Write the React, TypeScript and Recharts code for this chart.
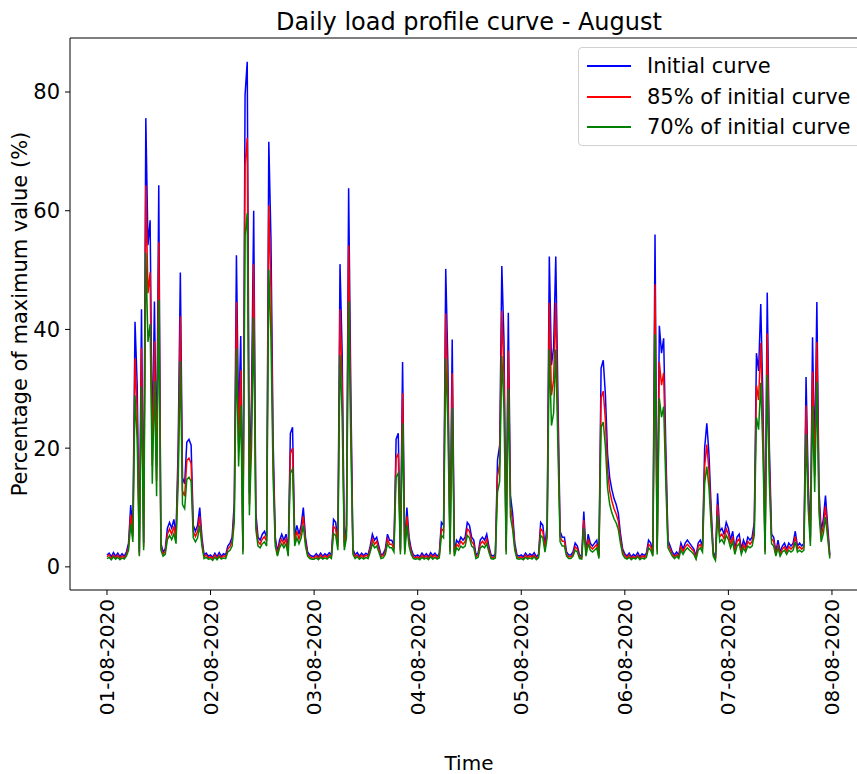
import React from 'react';
import { LineChart, Line, XAxis, YAxis, ReferenceLine } from 'recharts';

// Tick labels for the day boundaries
const dateLabels = ['01-08-2020', '02-08-2020', '03-08-2020', '04-08-2020', '05-08-2020', '06-08-2020', '07-08-2020', '08-08-2020'];
const dayTicks = [0, 1, 2, 3, 4, 5, 6, 7];
const yTicks = [0, 20, 40, 60, 80];
const samplesPerDay = 48; // half-hourly samples

// Initial curve (% of maximum value), one row per day
const initialCurve = [
  2.0, 2.3, 1.7, 2.4, 1.8, 2.3, 1.7, 2.2, 1.8, 2.5, 4.0, 10.4, 6.0, 41.3, 30.6, 2.5, 43.4, 4.0, 75.6, 54.2, 58.4, 20.0, 44.7, 17.0, 64.3, 4.0, 2.5, 3.0, 6.5, 7.5, 6.5, 8.0, 5.5, 20.2, 49.6, 15.0, 14.0, 21.0, 21.5, 20.5, 7.0, 6.0, 7.0, 10.0, 5.0, 2.0, 2.3, 1.8,
  2.0, 1.6, 2.3, 1.7, 2.4, 1.8, 2.2, 2.0, 3.5, 4.0, 5.0, 10.8, 52.5, 24.2, 38.9, 3.0, 79.5, 85.1, 12.4, 29.0, 60.0, 9.0, 5.0, 4.5, 5.5, 6.0, 5.0, 71.6, 55.2, 21.4, 5.0, 2.5, 4.5, 5.5, 4.5, 5.5, 2.5, 22.5, 23.5, 5.0, 7.0, 5.5, 7.0, 10.0, 5.0, 2.5, 2.0, 1.8,
  1.8, 2.2, 1.7, 2.3, 1.8, 2.2, 1.9, 2.4, 2.0, 8.0, 7.5, 4.0, 51.0, 36.0, 4.0, 7.0, 63.8, 30.0, 3.0, 2.0, 2.4, 1.8, 2.3, 1.9, 2.3, 2.0, 3.5, 5.5, 4.5, 5.0, 3.5, 2.0, 2.2, 3.0, 5.5, 4.5, 4.5, 3.5, 21.5, 22.5, 3.0, 34.5, 3.0, 10.0, 5.0, 3.0, 2.0, 1.8,
  2.0, 1.7, 2.3, 1.8, 2.2, 1.7, 2.4, 1.9, 2.3, 1.8, 2.2, 7.5, 7.0, 50.2, 34.0, 3.0, 38.3, 2.5, 4.5, 4.0, 5.0, 4.5, 5.0, 7.5, 7.0, 5.0, 4.5, 2.0, 2.3, 4.5, 5.0, 4.5, 5.5, 3.5, 2.0, 1.8, 2.2, 18.0, 20.5, 50.7, 38.0, 3.0, 42.8, 12.0, 9.0, 4.0, 2.0, 1.8,
  2.0, 1.7, 2.3, 1.8, 2.2, 1.9, 2.4, 1.7, 2.1, 7.5, 7.0, 3.5, 7.0, 52.3, 34.0, 37.0, 52.3, 28.5, 6.0, 5.0, 5.0, 2.5, 2.0, 2.0, 2.5, 4.0, 3.5, 2.0, 1.8, 9.3, 2.5, 5.5, 4.0, 3.5, 4.0, 4.5, 2.0, 33.5, 34.8, 29.0, 19.0, 15.0, 13.0, 11.5, 10.5, 9.0, 5.5, 3.0,
  2.2, 1.8, 2.3, 1.7, 2.1, 1.8, 2.4, 1.7, 2.2, 1.9, 2.3, 4.5, 4.0, 2.5, 56.0, 3.0, 40.6, 36.0, 38.5, 20.0, 4.5, 3.5, 2.5, 2.0, 2.5, 2.0, 4.0, 3.0, 4.0, 4.5, 4.0, 3.5, 3.0, 1.8, 4.0, 4.5, 3.5, 20.0, 24.2, 19.0, 10.0, 2.5, 1.5, 12.4, 6.0, 6.5, 5.5, 7.5,
  6.5, 4.5, 6.0, 3.0, 5.0, 5.5, 3.0, 4.5, 3.5, 5.0, 4.5, 5.0, 7.5, 36.0, 33.0, 44.3, 28.0, 3.0, 46.2, 20.0, 5.5, 5.0, 2.5, 4.5, 2.5, 3.5, 4.0, 3.0, 4.0, 3.5, 4.0, 6.0, 3.5, 4.0, 3.5, 4.0, 32.0, 14.0, 5.0, 38.7, 18.0, 44.6, 13.0, 6.0, 8.0, 12.0, 7.0, 2.0,
];

// 85% of initial curve
const curve85 = [
  1.7, 2.0, 1.4, 2.0, 1.5, 2.0, 1.4, 1.9, 1.5, 2.1, 3.4, 8.8, 5.1, 35.1, 26.0, 2.1, 36.9, 3.4, 64.3, 46.1, 49.6, 17.0, 38.0, 14.5, 54.7, 3.4, 2.1, 2.6, 5.5, 6.4, 5.5, 6.8, 4.7, 17.2, 42.2, 12.8, 11.9, 17.9, 18.3, 17.4, 6.0, 5.1, 6.0, 8.5, 4.3, 1.7, 2.0, 1.5,
  1.7, 1.4, 2.0, 1.4, 2.0, 1.5, 1.9, 1.7, 3.0, 3.4, 4.3, 9.2, 44.6, 20.6, 33.1, 2.6, 67.6, 72.3, 10.5, 24.7, 51.0, 7.7, 4.3, 3.8, 4.7, 5.1, 4.3, 60.9, 46.9, 18.2, 4.3, 2.1, 3.8, 4.7, 3.8, 4.7, 2.1, 19.1, 20.0, 4.3, 6.0, 4.7, 6.0, 8.5, 4.3, 2.1, 1.7, 1.5,
  1.5, 1.9, 1.4, 2.0, 1.5, 1.9, 1.6, 2.0, 1.7, 6.8, 6.4, 3.4, 43.4, 30.6, 3.4, 6.0, 54.2, 25.5, 2.6, 1.7, 2.0, 1.5, 2.0, 1.6, 2.0, 1.7, 3.0, 4.7, 3.8, 4.3, 3.0, 1.7, 1.9, 2.6, 4.7, 3.8, 3.8, 3.0, 18.3, 19.1, 2.6, 29.3, 2.6, 8.5, 4.3, 2.6, 1.7, 1.5,
  1.7, 1.4, 2.0, 1.5, 1.9, 1.4, 2.0, 1.6, 2.0, 1.5, 1.9, 6.4, 6.0, 42.7, 28.9, 2.6, 32.6, 2.1, 3.8, 3.4, 4.3, 3.8, 4.3, 6.4, 6.0, 4.3, 3.8, 1.7, 2.0, 3.8, 4.3, 3.8, 4.7, 3.0, 1.7, 1.5, 1.9, 15.3, 17.4, 43.1, 32.3, 2.6, 36.4, 10.2, 7.7, 3.4, 1.7, 1.5,
  1.7, 1.4, 2.0, 1.5, 1.9, 1.6, 2.0, 1.4, 1.8, 6.4, 6.0, 3.0, 6.0, 44.5, 28.9, 31.5, 44.5, 24.2, 5.1, 4.3, 4.3, 2.1, 1.7, 1.7, 2.1, 3.4, 3.0, 1.7, 1.5, 7.9, 2.1, 4.7, 3.4, 3.0, 3.4, 3.8, 1.7, 28.5, 29.6, 24.7, 16.2, 12.8, 11.1, 9.8, 8.9, 7.7, 4.7, 2.6,
  1.9, 1.5, 2.0, 1.4, 1.8, 1.5, 2.0, 1.4, 1.9, 1.6, 2.0, 3.8, 3.4, 2.1, 47.6, 2.6, 34.5, 30.6, 32.7, 17.0, 3.8, 3.0, 2.1, 1.7, 2.1, 1.7, 3.4, 2.6, 3.4, 3.8, 3.4, 3.0, 2.6, 1.5, 3.4, 3.8, 3.0, 17.0, 20.6, 16.2, 8.5, 2.1, 1.3, 10.5, 5.1, 5.5, 4.7, 6.4,
  5.5, 3.8, 5.1, 2.6, 4.3, 4.7, 2.6, 3.8, 3.0, 4.3, 3.8, 4.3, 6.4, 30.6, 28.1, 37.7, 23.8, 2.6, 39.3, 17.0, 4.7, 4.3, 2.1, 3.8, 2.1, 3.0, 3.4, 2.6, 3.4, 3.0, 3.4, 5.1, 3.0, 3.4, 3.0, 3.4, 27.2, 11.9, 4.3, 32.9, 15.3, 37.9, 11.1, 5.1, 6.8, 10.2, 6.0, 1.7,
];

// 70% of initial curve
const curve70 = [
  1.4, 1.6, 1.2, 1.7, 1.3, 1.6, 1.2, 1.5, 1.3, 1.8, 2.8, 7.3, 4.2, 28.9, 21.4, 1.8, 30.4, 2.8, 52.9, 37.9, 40.9, 14.0, 31.3, 11.9, 45.0, 2.8, 1.8, 2.1, 4.6, 5.3, 4.6, 5.6, 3.9, 14.1, 34.7, 10.5, 9.8, 14.7, 15.1, 14.4, 4.9, 4.2, 4.9, 7.0, 3.5, 1.4, 1.6, 1.3,
  1.4, 1.1, 1.6, 1.2, 1.7, 1.3, 1.5, 1.4, 2.5, 2.8, 3.5, 7.6, 36.8, 16.9, 27.2, 2.1, 55.7, 59.6, 8.7, 20.3, 42.0, 6.3, 3.5, 3.2, 3.9, 4.2, 3.5, 50.1, 38.6, 15.0, 3.5, 1.8, 3.2, 3.9, 3.2, 3.9, 1.8, 15.8, 16.5, 3.5, 4.9, 3.9, 4.9, 7.0, 3.5, 1.8, 1.4, 1.3,
  1.3, 1.5, 1.2, 1.6, 1.3, 1.5, 1.3, 1.7, 1.4, 5.6, 5.3, 2.8, 35.7, 25.2, 2.8, 4.9, 44.7, 21.0, 2.1, 1.4, 1.7, 1.3, 1.6, 1.3, 1.6, 1.4, 2.5, 3.9, 3.2, 3.5, 2.5, 1.4, 1.5, 2.1, 3.9, 3.2, 3.2, 2.5, 15.1, 15.8, 2.1, 24.2, 2.1, 7.0, 3.5, 2.1, 1.4, 1.3,
  1.4, 1.2, 1.6, 1.3, 1.5, 1.2, 1.7, 1.3, 1.6, 1.3, 1.5, 5.3, 4.9, 35.1, 23.8, 2.1, 26.8, 1.8, 3.2, 2.8, 3.5, 3.2, 3.5, 5.3, 4.9, 3.5, 3.2, 1.4, 1.6, 3.2, 3.5, 3.2, 3.9, 2.5, 1.4, 1.3, 1.5, 12.6, 14.4, 35.5, 26.6, 2.1, 30.0, 8.4, 6.3, 2.8, 1.4, 1.3,
  1.4, 1.2, 1.6, 1.3, 1.5, 1.3, 1.7, 1.2, 1.5, 5.3, 4.9, 2.5, 4.9, 36.6, 23.8, 25.9, 36.6, 20.0, 4.2, 3.5, 3.5, 1.8, 1.4, 1.4, 1.8, 2.8, 2.5, 1.4, 1.3, 6.5, 1.8, 3.9, 2.8, 2.5, 2.8, 3.2, 1.4, 23.5, 24.4, 20.3, 13.3, 10.5, 9.1, 8.1, 7.4, 6.3, 3.9, 2.1,
  1.5, 1.3, 1.6, 1.2, 1.5, 1.3, 1.7, 1.2, 1.5, 1.3, 1.6, 3.2, 2.8, 1.8, 39.2, 2.1, 28.4, 25.2, 27.0, 14.0, 3.2, 2.5, 1.8, 1.4, 1.8, 1.4, 2.8, 2.1, 2.8, 3.2, 2.8, 2.5, 2.1, 1.3, 2.8, 3.2, 2.5, 14.0, 16.9, 13.3, 7.0, 1.8, 1.1, 8.7, 4.2, 4.6, 3.9, 5.3,
  4.6, 3.2, 4.2, 2.1, 3.5, 3.9, 2.1, 3.2, 2.5, 3.5, 3.2, 3.5, 5.3, 25.2, 23.1, 31.0, 19.6, 2.1, 32.3, 14.0, 3.9, 3.5, 1.8, 3.2, 1.8, 2.5, 2.8, 2.1, 2.8, 2.5, 2.8, 4.2, 2.5, 2.8, 2.5, 2.8, 22.4, 9.8, 3.5, 27.1, 12.6, 31.2, 9.1, 4.2, 5.6, 8.4, 4.9, 1.4,
];

const seriesNames = ['Initial curve', '85% of initial curve', '70% of initial curve'];
const seriesColors = ['#0000ff', '#ff0000', '#008000'];

const data = initialCurve.map((v, i) => ({
  t: i / samplesPerDay,
  initial: v,
  p85: curve85[i],
  p70: curve70[i],
}));

const FONT = 'DejaVu Sans, Verdana, sans-serif';

const XTick = (props: any) => {
  const { x, y, payload } = props;
  return (
    <text
      x={x}
      y={y}
      transform={`rotate(-90, ${x}, ${y})`}
      textAnchor="end"
      dominantBaseline="central"
      fontSize={20}
      fontFamily={FONT}
      fill="#000"
    >
      {dateLabels[payload.value]}
    </text>
  );
};

export default function App() {
  return (
    <div style={{ position: 'fixed', left: 0, top: 0, width: 857, height: 774, overflow: 'hidden', background: '#fff', fontFamily: FONT }}>
      <LineChart width={900} height={774} data={data} margin={{ top: 38, right: 32, bottom: 0, left: 10 }}>
        <XAxis
          dataKey="t"
          type="number"
          domain={[-0.357, 7.348]}
          allowDataOverflow
          ticks={dayTicks}
          interval={0}
          height={184}
          tickSize={5}
          tickMargin={4}
          tick={<XTick />}
          axisLine={{ stroke: '#000', strokeWidth: 1 }}
          tickLine={{ stroke: '#000', strokeWidth: 1 }}
        />
        <YAxis
          type="number"
          domain={[-3.9, 89.1]}
          allowDataOverflow
          ticks={yTicks}
          interval={0}
          width={60}
          tickSize={5}
          tickMargin={5}
          tick={{ fontSize: 21, fill: '#000', fontFamily: FONT }}
          axisLine={{ stroke: '#000', strokeWidth: 1 }}
          tickLine={{ stroke: '#000', strokeWidth: 1 }}
        />
        <ReferenceLine y={89.1} stroke="#000" strokeWidth={1} />
        <Line dataKey="initial" stroke={seriesColors[0]} strokeWidth={1.5} dot={false} isAnimationActive={false} />
        <Line dataKey="p85" stroke={seriesColors[1]} strokeWidth={1.5} dot={false} isAnimationActive={false} />
        <Line dataKey="p70" stroke={seriesColors[2]} strokeWidth={1.5} dot={false} isAnimationActive={false} />
      </LineChart>

      <div style={{ position: 'absolute', left: 0, top: 8, width: 938, textAlign: 'center', fontSize: 24, lineHeight: '28px', color: '#000' }}>
        Daily load profile curve - August
      </div>
      <div style={{ position: 'absolute', left: 20, top: 314, transform: 'translate(-50%, -50%) rotate(-90deg)', whiteSpace: 'nowrap', fontSize: 21, lineHeight: '24px', color: '#000' }}>
        Percentage of maximum value (%)
      </div>
      <div style={{ position: 'absolute', left: 0, top: 751, width: 938, textAlign: 'center', fontSize: 20, lineHeight: '24px', color: '#000' }}>
        Time
      </div>

      <div style={{ position: 'absolute', left: 578, top: 47, width: 300, height: 99, border: '1px solid #d0d0d0', borderRadius: 4, background: 'rgba(255,255,255,0.8)', boxSizing: 'border-box' }}>
        {seriesNames.map((name, i) => (
          <div key={name} style={{ position: 'absolute', left: 0, top: 5 + i * 30.5, height: 26, width: 300 }}>
            <div style={{ position: 'absolute', left: 8, top: 12, width: 44, height: 2, background: seriesColors[i] }} />
            <div style={{ position: 'absolute', left: 68, top: 0, fontSize: 21, lineHeight: '26px', whiteSpace: 'nowrap', color: '#000' }}>{name}</div>
          </div>
        ))}
      </div>
    </div>
  );
}
